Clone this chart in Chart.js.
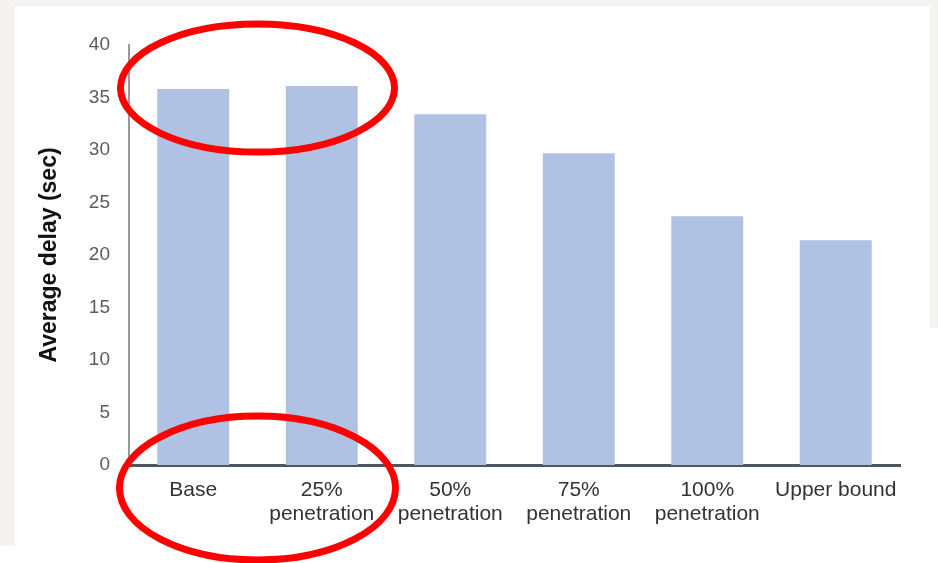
<!DOCTYPE html>
<html lang="en">
<head>
  <meta charset="UTF-8">
  <title>Average delay by penetration</title>
  <script src="https://cdn.jsdelivr.net/npm/chart.js@4.4.0/dist/chart.umd.min.js"></script>
  <style>
    body { margin: 0; background: #fff; }
    .wrap { position: relative; width: 938px; height: 563px; overflow: hidden; }
    .frame-top { position: absolute; left: 0; top: 0; width: 938px; height: 6px; background: #f4f3f1; }
    .frame-left { position: absolute; left: 0; top: 0; width: 15px; height: 546px; background: #f4f3f1; }
    .frame-right { position: absolute; left: 930px; top: 0; width: 8px; height: 328px; background: #f4f3f1; }
    canvas { position: absolute; left: 0; top: 0; }
  </style>
</head>
<body>
<div class="wrap">
  <div class="frame-top"></div>
  <div class="frame-left"></div>
  <div class="frame-right"></div>
  <canvas id="myChart" width="938" height="563"></canvas>
</div>

<script>
const categories = ['Base', ['25%', 'penetration'], ['50%', 'penetration'], ['75%', 'penetration'], ['100%', 'penetration'], 'Upper bound'];
const delays = [35.8, 36.1, 33.4, 29.7, 23.7, 21.4];
const yTicks = [0, 5, 10, 15, 20, 25, 30, 35, 40];

// red circles drawn over the picture (centres tied to the scales)
const highlights = [
  { between: [0, 1], value: 35.9, rx: 137, ry: 64 },
  { between: [0, 1], below: 23, rx: 138, ry: 72 }
];

const highlightPlugin = {
  id: 'highlights',
  afterDraw(chart) {
    const ctx = chart.ctx;
    const x = chart.scales.x, y = chart.scales.y;
    ctx.save();
    ctx.strokeStyle = '#ff0000';
    ctx.lineWidth = 7;
    highlights.forEach(h => {
      const cx = (x.getPixelForValue(h.between[0]) + x.getPixelForValue(h.between[1])) / 2;
      const cy = h.value !== undefined ? y.getPixelForValue(h.value) : y.getPixelForValue(0) + h.below;
      ctx.beginPath();
      ctx.ellipse(cx, cy, h.rx, h.ry, 0, 0, Math.PI * 2);
      ctx.stroke();
    });
    ctx.restore();
  }
};

let myChart = document.getElementById('myChart').getContext('2d');

let delayChart = new Chart(myChart, {
  type: 'bar',
  data: {
    labels: categories,
    datasets: [{
      label: 'Average delay (sec)',
      data: delays,
      backgroundColor: '#b0c2e4',
      barPercentage: 0.56,
      categoryPercentage: 1
    }]
  },
  options: {
    responsive: false,
    animation: false,
    layout: { padding: { left: 36, right: 38, top: 45, bottom: 0 } },
    plugins: {
      legend: { display: false },
      tooltip: { enabled: false }
    },
    scales: {
      x: {
        grid: { display: false, drawTicks: false },
        border: { display: true, color: '#4f565e', width: 3 },
        ticks: {
          color: '#333',
          font: { family: 'Liberation Sans, Arial', size: 21, lineHeight: 1.15 },
          padding: 13,
          maxRotation: 0,
          autoSkip: false
        },
        afterFit(scale) { scale.height = 98; }
      },
      y: {
        min: 0,
        max: 40,
        afterBuildTicks(scale) { scale.ticks = yTicks.map(v => ({ value: v })); },
        grid: { display: false, drawTicks: false },
        border: { display: true, color: '#9a9a9a', width: 2 },
        ticks: {
          color: '#5c5c5c',
          font: { family: 'Liberation Sans, Arial', size: 19 },
          padding: 19
        },
        title: {
          display: true,
          text: 'Average delay (sec)',
          color: '#111',
          font: { family: 'Liberation Sans, Arial', size: 23, weight: 'bold' },
          padding: 0
        },
        afterFit(scale) { scale.width = 93; }
      }
    }
  },
  plugins: [highlightPlugin]
});
</script>
</body>
</html>
